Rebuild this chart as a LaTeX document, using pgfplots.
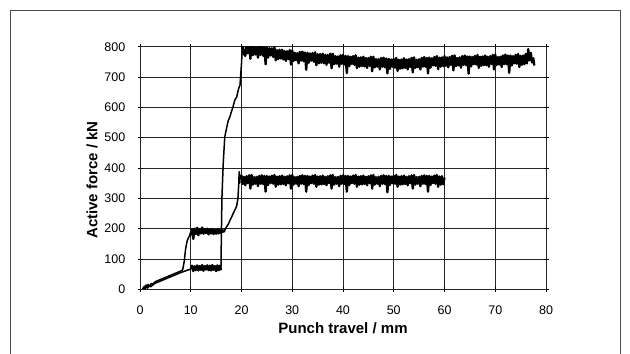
\documentclass[border=0pt]{standalone}
\usepackage{pgfplots}
\pgfplotsset{compat=1.18}
\usepackage{fontspec}
\setmainfont{Liberation Sans}

\begin{document}
\begin{tikzpicture}
\useasboundingbox (0,0) rectangle (630bp,354bp);
\draw[line width=0.9bp, black!70] (10.7bp,0) -- (10.7bp,343.3bp) -- (620.5bp,343.3bp) -- (620.5bp,0);
\begin{axis}[
  at={(140bp,64.7bp)}, anchor=south west,
  scale only axis, width=406bp, height=242.6bp,
  xmin=0, xmax=80, ymin=0, ymax=800,
  xtick={0,10,...,80}, ytick={0,100,...,800},
  grid=major,
  major grid style={line width=0.9bp, black!85},
  axis line style={line width=0.9bp, black!85},
  tick style={line width=0.8bp, black},
  tick align=center, major tick length=5bp,
  /pgf/number format/assume math mode=true,
  ticklabel style={font=\fontsize{12.5bp}{14bp}\selectfont, inner sep=0pt},
  xticklabel style={anchor=center, yshift=-18.4bp},
  yticklabel style={anchor=east, xshift=-12bp},
  xlabel={Punch travel / mm},
  ylabel={Active force / kN},
  label style={font=\fontsize{15bp}{17bp}\selectfont\bfseries},
  xlabel style={at={(axis description cs:0.5,-0.1595)}, anchor=center},
  ylabel style={at={(axis description cs:-0.1182,0.4505)}, anchor=center},
  thin trace/.style={black, no markers, line width=1.5bp, line join=round},
  noisy trace/.style={black, no markers, line width=2.3bp, line join=round},
]
% ---- Series ending at 60 mm (190 kN step, 360 kN plateau) ----
\addplot[thin trace] coordinates {
(0.5,0) (0.8,8) (1.0,2) (1.2,14) (1.4,6) (1.6,16) (1.9,10) (2.2,19) (2.5,17) (3,25) (4,32) (5,39) (6,46) (7,53) (8,60) (8.4,64) (8.7,90) (9.0,135) (9.3,160) (9.6,172) (9.85,178)
};
\addplot[noisy trace] coordinates {
(9.85,178) (10.0,185) (10.25,198) (10.5,166) (10.75,200) (11,182) (11.25,203) (11.5,178) (11.75,199) (12,184) (12.25,204) (12.5,183) (12.75,198) (13,185) (13.25,200) (13.5,181) (13.75,197) (14,184) (14.25,199) (14.5,182) (14.75,196) (15,183) (15.25,198) (15.5,184) (15.75,196) (16,186) (16.25,195) (16.5,190) (16.7,195)
};
\addplot[thin trace] coordinates {
(16.7,195) (17.0,205) (17.4,215) (17.8,230) (18.1,240) (18.5,255) (18.8,265) (19.05,275) (19.3,300) (19.45,345) (19.55,388) (19.65,350) (19.75,374)
};
\addplot[noisy trace] coordinates {
(19.75,374)
(20,375) (20.25,347) (20.5,371) (20.75,343)
(21,373) (21.25,350) (21.5,376) (21.75,332)
(22,377) (22.25,345) (22.5,370) (22.75,348)
(23,371) (23.25,340) (23.5,374) (23.75,348)
(24,376) (24.25,347) (24.5,374) (24.75,322)
(25,374) (25.25,344) (25.5,372) (25.75,350)
(26,375) (26.25,348) (26.5,377) (26.75,338)
(27,372) (27.25,345) (27.5,373) (27.75,346)
(28,375) (28.25,347) (28.5,371) (28.75,343)
(29,373) (29.25,350) (29.5,376) (29.75,332)
(30,377) (30.25,345) (30.5,370) (30.75,348)
(31,371) (31.25,340) (31.5,374) (31.75,348)
(32,376) (32.25,347) (32.5,374) (32.75,322)
(33,374) (33.25,344) (33.5,372) (33.75,350)
(34,375) (34.25,348) (34.5,377) (34.75,338)
(35,372) (35.25,345) (35.5,373) (35.75,346)
(36,375) (36.25,347) (36.5,371) (36.75,343)
(37,373) (37.25,350) (37.5,376) (37.75,332)
(38,377) (38.25,345) (38.5,370) (38.75,348)
(39,371) (39.25,340) (39.5,374) (39.75,348)
(40,376) (40.25,347) (40.5,374) (40.75,322)
(41,374) (41.25,344) (41.5,372) (41.75,350)
(42,375) (42.25,348) (42.5,377) (42.75,338)
(43,372) (43.25,345) (43.5,373) (43.75,346)
(44,375) (44.25,347) (44.5,371) (44.75,343)
(45,373) (45.25,350) (45.5,376) (45.75,332)
(46,377) (46.25,345) (46.5,370) (46.75,348)
(47,371) (47.25,340) (47.5,374) (47.75,348)
(48,376) (48.25,347) (48.5,374) (48.75,320)
(49,374) (49.25,344) (49.5,372) (49.75,350)
(50,375) (50.25,348) (50.5,377) (50.75,338)
(51,372) (51.25,345) (51.5,373) (51.75,346)
(52,375) (52.25,347) (52.5,371) (52.75,343)
(53,373) (53.25,350) (53.5,376) (53.75,332)
(54,377) (54.25,345) (54.5,370) (54.75,348)
(55,371) (55.25,340) (55.5,374) (55.75,348)
(56,376) (56.25,347) (56.5,374) (56.75,322)
(57,374) (57.25,344) (57.5,372) (57.75,350)
(58,375) (58.25,348) (58.5,377) (58.75,338)
(59,372) (59.25,345) (59.5,373) (59.75,346)
(60,368)
};
% ---- Series ending at 78 mm (70 kN step, ~750-800 kN plateau) ----
\addplot[thin trace] coordinates {
(0.5,0) (0.9,10) (1.1,3) (1.3,13) (1.5,4) (1.8,12) (2.1,8) (2.5,14) (3,20) (4,27) (5,34) (6,41) (7,48) (8,55) (9,61) (9.5,64) (10,66)
};
\addplot[noisy trace] coordinates {
(10,66) (10.25,78) (10.5,60) (10.75,76) (11,63) (11.25,79) (11.5,62) (11.75,77) (12,64) (12.25,80) (12.5,61) (12.75,77) (13,65) (13.25,79) (13.5,63) (13.75,78) (14,62) (14.25,80) (14.5,64) (14.75,77) (15,60) (15.25,79) (15.5,63) (15.75,78) (15.95,63)
};
\addplot[thin trace] coordinates {
(15.95,63) (16.05,200) (16.15,305) (16.4,415) (16.7,502) (17.1,535) (17.4,557) (17.7,568) (18.0,585) (18.3,600) (18.7,625) (19.05,634) (19.4,660) (19.7,673) (20.0,744) (20.2,805)
};
\addplot[noisy trace] coordinates {
(20.2,805)
(20.25,807) (20.5,775) (20.75,770)
(21,804) (21.25,778) (21.5,808) (21.75,760)
(22,807) (22.25,772) (22.5,799) (22.75,774)
(23,798) (23.25,764) (23.5,802) (23.75,773)
(24,802) (24.25,770) (24.5,799) (24.75,742)
(25,797) (25.25,764) (25.5,795) (25.75,771)
(26,795) (26.25,766) (26.5,798) (26.75,755)
(27,789) (27.25,759) (27.5,790) (27.75,761)
(28,790) (28.25,758) (28.5,786) (28.75,753)
(29,785) (29.25,759) (29.5,789) (29.75,741)
(30,788) (30.25,753) (30.5,780) (30.75,755)
(31,779) (31.25,745) (31.5,783) (31.75,754)
(32,784) (32.25,752) (32.5,781) (32.75,724)
(33,780) (33.25,747) (33.5,778) (33.75,754)
(34,779) (34.25,750) (34.5,782) (34.75,739)
(35,775) (35.25,745) (35.5,776) (35.75,747)
(36,777) (36.25,745) (36.5,773) (36.75,740)
(37,773) (37.25,747) (37.5,777) (37.75,729)
(38,777) (38.25,742) (38.5,769) (38.75,744)
(39,768) (39.25,734) (39.5,772) (39.75,743)
(40,773) (40.25,741) (40.5,770) (40.75,713)
(41,769) (41.25,736) (41.5,767) (41.75,743)
(42,769) (42.25,740) (42.5,772) (42.75,729)
(43,764) (43.25,734) (43.5,765) (43.75,736)
(44,767) (44.25,735) (44.5,763) (44.75,730)
(45,763) (45.25,737) (45.5,767) (45.75,719)
(46,767) (46.25,732) (46.5,759) (46.75,734)
(47,759) (47.25,725) (47.5,763) (47.75,734)
(48,764) (48.25,732) (48.5,761) (48.75,712)
(49,760) (49.25,727) (49.5,758) (49.75,734)
(50,760) (50.25,731) (50.5,763) (50.75,720)
(51,757) (51.25,727) (51.5,758) (51.75,729)
(52,762) (52.25,730) (52.5,758) (52.75,725)
(53,759) (53.25,733) (53.5,763) (53.75,715)
(54,765) (54.25,730) (54.5,757) (54.75,732)
(55,759) (55.25,725) (55.5,763) (55.75,734)
(56,766) (56.25,734) (56.5,763) (56.75,712)
(57,764) (57.25,731) (57.5,762) (57.75,738)
(58,766) (58.25,737) (58.5,769) (58.75,726)
(59,764) (59.25,734) (59.5,765) (59.75,736)
(60,769) (60.25,737) (60.5,765) (60.75,732)
(61,766) (61.25,740) (61.5,770) (61.75,722)
(62,771) (62.25,736) (62.5,763) (62.75,738)
(63,765) (63.25,731) (63.5,769) (63.75,740)
(64,771) (64.25,739) (64.5,768) (64.75,711)
(65,768) (65.25,735) (65.5,766) (65.75,742)
(66,770) (66.25,741) (66.5,773) (66.75,730)
(67,767) (67.25,737) (67.5,768) (67.75,739)
(68,771) (68.25,739) (68.5,767) (68.75,734)
(69,769) (69.25,743) (69.5,773) (69.75,725)
(70,774) (70.25,739) (70.5,766) (70.75,741)
(71,767) (71.25,733) (71.5,771) (71.75,742)
(72,774) (72.25,742) (72.5,771) (72.75,714)
(73,771) (73.25,738) (73.5,769) (73.75,745)
(74,773) (74.25,744) (74.5,776) (74.75,733)
(75,770) (75.25,740) (75.5,771) (75.75,742)
(76,776) (76.25,745) (76.5,792) (76.75,755)
(77,780) (77.25,748) (77.5,762) (77.7,738)
};
\end{axis}
\end{tikzpicture}
\end{document}
